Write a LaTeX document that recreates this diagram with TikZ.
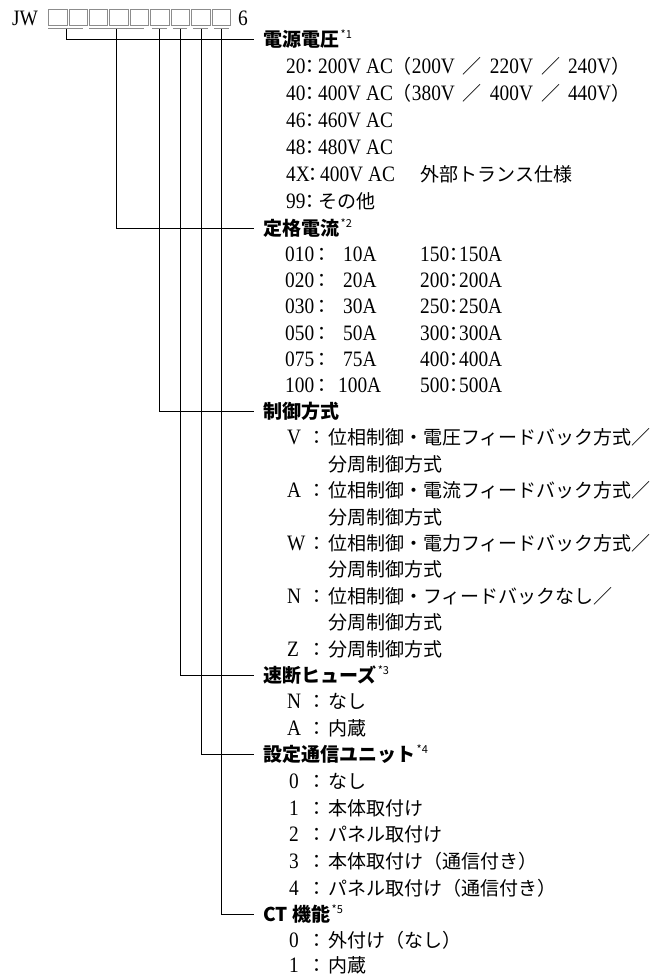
\documentclass[tikz,border=0pt]{standalone}
\usepackage{fontspec}
\setmainfont{Liberation Serif}[FakeStretch=0.88]
\newfontfamily\jp{Noto Sans CJK JP}
\newcommand\J[1]{{\fontsize{19}{19}\selectfont\jp #1}}
\newcommand\Hd[1]{{\fontsize{19}{19}\selectfont\jp\bfseries #1}}
\newcommand\Sp[1]{\hspace{1.5pt}\raisebox{8pt}{\fontsize{11}{11}\selectfont\jp #1}}
\newcommand\Sl{\hspace{8pt}\J{／}\hspace{8pt}}
% #1 name, #2 y centre, #3 code x, #4 code, #5 colon x, #6 text x, #7 text
\newcommand\Opt[7]{%
  \node[txt] (#1a) at (#3,{#2+7}) {#4};
  \node[colon] (#1b) at (#5,{#2+7}) {：};
  \node[txt] (#1c) at (#6,{#2+7}) {#7};}
\newcommand\Cont[3]{\node[txt] (#1) at (328,{#2+7}) {\J{#3}};}
\begin{document}
\begin{tikzpicture}[x=1pt,y=-1pt,
  txt/.style={anchor=base west,inner sep=0pt,font=\fontsize{22}{22}\selectfont},
  colon/.style={anchor=base,inner sep=0pt,font=\fontsize{19}{19}\selectfont\jp},
  hdr/.style={anchor=base west,inner sep=0pt},
  boxst/.style={draw=black!45,line width=0.8pt},
  ul/.style={draw=black!45,line width=0.9pt},
  conn/.style={draw=black,line width=0.8pt}]
\useasboundingbox (0,0) rectangle (671,977);
\fill[white] (0,0) rectangle (671,977);

% model code
\node[txt] (jw) at (12,25) {JW};
\foreach \i in {0,...,8} \draw[boxst] ({48.5+20.45*\i},9.5) rectangle ++(18.4,16);
\node[txt] (six) at (238,25) {6};

% underlines
\draw[ul] (48,28.5) -- (83,28.5);
\draw[ul] (89,28.5) -- (144,28.5);
\draw[ul] (152,28.5) -- (167,28.5);
\draw[ul] (173,28.5) -- (187,28.5);
\draw[ul] (193,28.5) -- (208,28.5);
\draw[ul] (214,28.5) -- (229,28.5);
\coordinate (u1) at (66,28.5);
\coordinate (u2) at (116,28.5);
\coordinate (u3) at (159,28.5);
\coordinate (u4) at (180,28.5);
\coordinate (u5) at (201,28.5);
\coordinate (u6) at (221,28.5);
\coordinate (e1) at (254,39);
\coordinate (e2) at (254,228);
\coordinate (e3) at (254,411);
\coordinate (e4) at (254,675);
\coordinate (e5) at (254,754);
\coordinate (e6) at (254,914);
\draw[conn] (u1) |- (e1);
\draw[conn] (u2) |- (e2);
\draw[conn] (u3) |- (e3);
\draw[conn] (u4) |- (e4);
\draw[conn] (u5) |- (e5);
\draw[conn] (u6) |- (e6);

% headers
\node[hdr] (h1) at (263,46) {\Hd{電源電圧}\Sp{*1}};
\node[hdr] (h2) at (263,235) {\Hd{定格電流}\Sp{*2}};
\node[hdr] (h3) at (263,418) {\Hd{制御方式}};
\node[hdr] (h4) at (263,682) {\Hd{速断ヒューズ}\Sp{*3}};
\node[hdr] (h5) at (263,761) {\Hd{設定通信ユニット}\Sp{*4}};
\node[hdr] (h6) at (263,921) {\Hd{CT 機能}\Sp{*5}};

% section 1
\Opt{s1i1}{66}{286}{20}{310}{318}{200V AC\J{（}200V\Sl 220V\Sl 240V\J{）}}
\Opt{s1i2}{93}{286}{40}{310}{318}{400V AC\J{（}380V\Sl 400V\Sl 440V\J{）}}
\Opt{s1i3}{120}{286}{46}{310}{318}{460V AC}
\Opt{s1i4}{147}{286}{48}{310}{318}{480V AC}
\Opt{s1i5}{174}{286}{4X}{313}{320}{400V AC\hspace{26pt}\J{外部トランス仕様}}
\Opt{s1i6}{201}{286}{99}{310}{318}{\J{その他}}

% section 2
\Opt{s2l1}{254}{285}{010}{322}{343}{10A}
\Opt{s2l2}{280}{285}{020}{322}{343}{20A}
\Opt{s2l3}{306}{285}{030}{322}{343}{30A}
\Opt{s2l4}{333}{285}{050}{322}{343}{50A}
\Opt{s2l5}{359}{285}{075}{322}{343}{75A}
\Opt{s2l6}{385}{285}{100}{322}{338}{100A}
\Opt{s2r1}{254}{420}{150}{454}{459}{150A}
\Opt{s2r2}{280}{420}{200}{454}{459}{200A}
\Opt{s2r3}{306}{420}{250}{454}{459}{250A}
\Opt{s2r4}{333}{420}{300}{454}{459}{300A}
\Opt{s2r5}{359}{420}{400}{454}{459}{400A}
\Opt{s2r6}{385}{420}{500}{454}{459}{500A}

% section 3
\Opt{s3i1}{437}{287}{V}{317}{328}{\J{位相制御・電圧フィードバック方式／}}
\Cont{s3c1}{464}{分周制御方式}
\Opt{s3i2}{490}{287}{A}{317}{328}{\J{位相制御・電流フィードバック方式／}}
\Cont{s3c2}{517}{分周制御方式}
\Opt{s3i3}{543}{287}{W}{317}{328}{\J{位相制御・電力フィードバック方式／}}
\Cont{s3c3}{569}{分周制御方式}
\Opt{s3i4}{596}{287}{N}{317}{328}{\J{位相制御・フィードバックなし／}}
\Cont{s3c4}{622}{分周制御方式}
\Opt{s3i5}{649}{287}{Z}{317}{328}{\J{分周制御方式}}

% section 4
\Opt{s4i1}{701}{287}{N}{317}{328}{\J{なし}}
\Opt{s4i2}{728}{287}{A}{317}{328}{\J{内蔵}}

% section 5
\Opt{s5i1}{781}{289}{0}{317}{328}{\J{なし}}
\Opt{s5i2}{808}{289}{1}{317}{328}{\J{本体取付け}}
\Opt{s5i3}{834}{289}{2}{317}{328}{\J{パネル取付け}}
\Opt{s5i4}{861}{289}{3}{317}{328}{\J{本体取付け（通信付き）}}
\Opt{s5i5}{888}{289}{4}{317}{328}{\J{パネル取付け（通信付き）}}

% section 6
\Opt{s6i1}{940}{289}{0}{317}{328}{\J{外付け（なし）}}
\Opt{s6i2}{965}{289}{1}{317}{328}{\J{内蔵}}
\end{tikzpicture}
\end{document}
